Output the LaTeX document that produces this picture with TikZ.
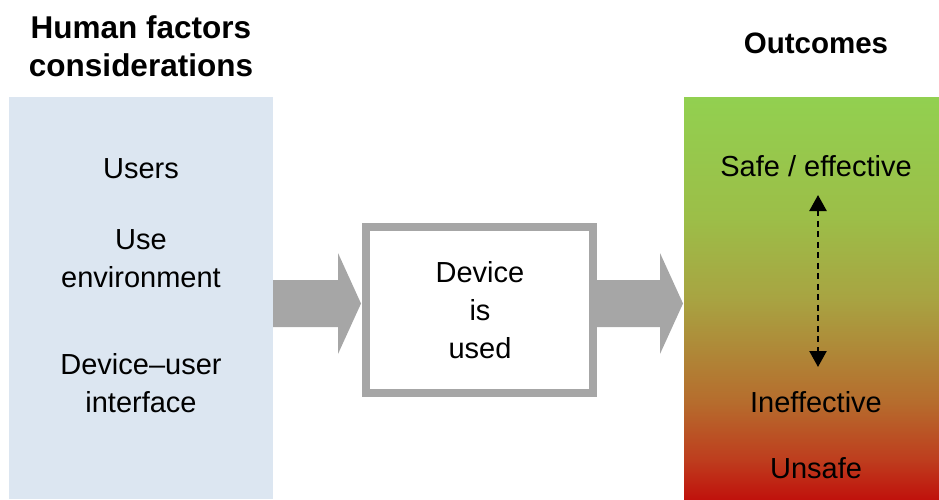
\documentclass[tikz,border=0pt]{standalone}
\usepackage{fontspec}
\setmainfont{Liberation Sans}
\usetikzlibrary{arrows.meta,calc}
\definecolor{panelblue}{RGB}{220,230,241}
\definecolor{arrowgray}{RGB}{166,166,166}
\definecolor{gtop}{RGB}{146,208,80}
\definecolor{gupper}{RGB}{156,190,72}
\definecolor{gmid}{RGB}{168,164,66}
\definecolor{glow}{RGB}{182,108,45}
\definecolor{gredder}{RGB}{190,62,30}
\definecolor{gbottom}{RGB}{192,18,12}
\pgfdeclareverticalshading{outcomeshade}{100bp}{%
  color(0bp)=(gbottom); color(25bp)=(gbottom); color(30bp)=(gredder);
  color(37bp)=(glow); color(50bp)=(gmid); color(60bp)=(gupper);
  color(75bp)=(gtop); color(100bp)=(gtop)}
\newcommand\blockarr[2]{%
  \fill[arrowgray] let \p1=(#1), \p2=(#2) in
    (\x1,-280pt) -- (\x2-24pt,-280pt) -- (\x2-24pt,-253pt) -- (\x2-1pt,-303.5pt)
    -- (\x2-24pt,-354pt) -- (\x2-24pt,-327pt) -- (\x1,-327pt) -- cycle;}
\begin{document}
\begin{tikzpicture}[x=1pt,y=-1pt,
  txt/.style={font=\fontsize{29}{38}\selectfont, align=center, inner sep=0pt, text=black},
  ttl/.style={font=\bfseries\fontsize{31.5}{38}\selectfont, align=center, inner sep=0pt, text=black},
  panel/.style={inner sep=0pt, outer sep=0pt, draw=none},
  devbox/.style={draw=arrowgray, line width=8pt, fill=white, inner sep=0pt},
  dasharrow/.style={line width=2.4pt, dash pattern=on 6pt off 4.5pt,
    {Triangle[width=17pt,length=16pt]}-{Triangle[width=17pt,length=16pt]}}]
\useasboundingbox (0,0) rectangle (939,499);

% panels
\node[panel, fill=panelblue, minimum width=264pt, minimum height=402pt] (lp) at (141,298) {};
\node[panel, shading=outcomeshade, minimum width=255pt, minimum height=402pt] (rp) at (811.5,298) {};

% device box
\node[devbox, minimum width=227pt, minimum height=166pt] (box) at (479.5,310) {};

% block arrows
\blockarr{lp.east}{box.west}
\blockarr{box.east}{rp.west}

% titles
\node[ttl] (t1) at (141,46.5) {Human factors\\considerations};
\node[ttl, font=\bfseries\fontsize{29.5}{38}\selectfont, anchor=base] (t2) at (816,53.5) {Outcomes};

% left texts
\node[txt, anchor=base] (users) at (141,178) {Users};
\node[txt] (env) at (141,258.6) {Use\\environment};
\node[txt] (dui) at (141,383.6) {Device–user\\interface};

% box text
\node[txt] (dev) at (480,310.5) {Device\\is\\used};

% outcomes
\node[txt, anchor=base] (safe) at (816,176) {Safe / effective};
\node[txt, anchor=base] (ineff) at (816,412) {Ineffective};
\node[txt, anchor=base] (unsafe) at (816,478) {Unsafe};

\coordinate (atop) at (818,195);
\coordinate (abot) at (818,367);
\draw[dasharrow] (atop) -- (abot);
\end{tikzpicture}
\end{document}
